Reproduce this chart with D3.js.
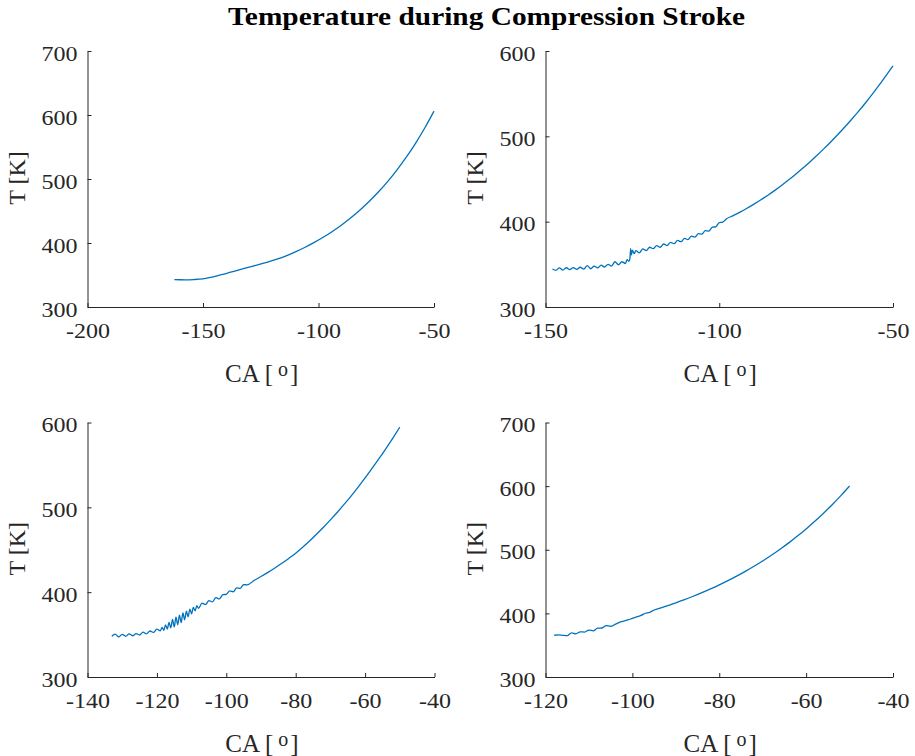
<!DOCTYPE html>
<html><head><meta charset="utf-8">
<script src="https://cdn.jsdelivr.net/npm/d3@7"></script>
<style>body{margin:0;background:#fff}svg{display:block}</style>
</head><body>
<script>
// ---- Data ----
const title = "Temperature during Compression Stroke";

// Subplot 1
const ca1 = [-162.4,-160,-158,-154,-150,-146,-142,-138,-134,-130,-126,-122,-118,-114,-110,-106,-102,-98,-94,-90,-86,-82,-78,-74,-70,-66,-62,-58,-54,-50];
const t1  = [342.8,342.6,342.5,342.9,344.0,346.8,350.4,354.4,358.4,362.3,366.2,370.3,374.8,380.0,386.0,392.9,400.5,408.9,418.1,428.2,439.4,451.7,465.2,480.0,496.3,514.3,534.0,555.8,579.7,606.0];
const xTicks1 = [-200,-150,-100,-50];
const yTicks1 = [300,400,500,600,700];

// Subplot 2
const ca2 = [-148,-147,-146,-145,-144,-143,-142,-141,-140,-139,-138,-137,-136,-135,-134,-133,-132,-131,-130,-129,-128,-127,-126.5,-126,-125.7,-125.5,-125.3,-125,-124.5,-124,-123,-122,-121,-120,-119,-118,-117,-116,-115,-114,-113,-112,-111,-110,-109,-108,-107,-106,-105,-104,-103,-102,-101,-100,-99,-98,-96,-94,-92,-90,-88,-86,-84,-82,-80,-78,-76,-74,-72,-70,-68,-66,-64,-62,-60,-58,-56,-54,-52,-50];
const t2  = [344.5,343.0,345.8,343.3,346.0,343.8,346.2,344.0,346.6,344.3,348.5,344.8,347.8,345.8,349.0,346.8,350.0,348.0,353.0,349.5,353.0,351.0,355.5,353.5,357.0,368.5,361.0,366.5,362.5,366.0,363.5,368.0,366.0,370.0,368.3,372.0,370.0,373.8,372.0,375.8,374.3,378.0,376.5,380.5,379.0,383.0,382.0,386.0,385.5,389.5,389.0,393.5,394.0,399.0,399.5,403.1,407.0,411.2,415.7,420.5,425.6,431.0,436.7,442.7,449.0,455.6,462.5,469.7,477.2,485.0,493.1,501.5,510.3,519.4,528.9,538.8,549.1,559.9,571.2,582.5];
const xTicks2 = [-150,-100,-50];
const yTicks2 = [300,400,500,600];

// Subplot 3
const ca3 = [-133,-132,-131,-130,-129,-128,-127,-126,-125,-124,-123,-122,-121,-120,-119,-118.5,-118,-117.5,-117,-116.5,-116,-115.5,-115,-114.5,-114,-113.5,-113,-112.5,-112,-111.5,-111,-110.5,-110,-109.5,-109,-108.5,-108,-107,-106,-105,-104,-103,-102,-101,-100,-99,-98,-97,-96,-95,-94,-92,-90,-88,-86,-84,-82,-80,-78,-76,-74,-72,-70,-68,-66,-64,-62,-60,-58,-56,-54,-52,-50];
const t3  = [348.0,350.5,347.2,350.3,348.0,350.8,348.6,351.2,349.5,352.8,350.8,354.2,352.5,356.5,354.5,358.5,355.0,361.5,356.5,364.5,358.0,368.0,359.0,370.5,361.5,373.0,364.0,375.5,367.5,377.5,371.0,380.0,374.5,382.0,378.0,384.0,381.0,387.0,385.5,390.0,388.5,393.5,392.0,397.0,397.5,401.5,400.5,405.0,404.5,409.0,408.5,413.8,418.4,423.3,428.5,434.0,439.8,446.0,453.0,460.4,468.3,476.5,485.2,494.2,503.7,513.6,523.9,534.6,545.8,557.3,569.3,581.7,594.5];
const xTicks3 = [-140,-120,-100,-80,-60,-40];
const yTicks3 = [300,400,500,600];

// Subplot 4
const ca4 = [-118,-117,-116,-115,-114,-113,-112,-111,-110,-109,-108,-107,-106,-105,-104,-103,-102,-101,-100,-99,-98,-97,-96,-95,-94,-92,-90,-88,-86,-84,-82,-80,-78,-76,-74,-72,-70,-68,-66,-64,-62,-60,-58,-56,-54,-52,-50];
const t4  = [365.6,366.2,365.4,364.9,369.5,367.9,371.0,370.6,373.8,372.4,376.7,377.0,380.9,379.5,382.6,386.0,387.9,389.6,392.2,394.6,396.8,400.2,401.6,405.3,407.3,411.9,416.6,421.6,426.9,432.5,438.5,444.8,451.5,458.5,466.0,474.0,482.4,491.3,500.8,510.8,521.5,532.8,544.7,557.4,570.8,585.1,600.2];
const xTicks4 = [-120,-100,-80,-60,-40];
const yTicks4 = [300,400,500,600,700];

const xLabelMain = "CA [";
const xLabelSup = "o";
const xLabelEnd = "]";
const yLabel = "T [K]";

// ---- Drawing ----
const W = 915, H = 756;
const svg = d3.select("body").append("svg").attr("width", W).attr("height", H);
const font = "'Liberation Serif','Times New Roman',serif";
const axisColor = "#262626";
const lineColor = "#0072BD";

svg.append("text").attr("transform", "translate(486.5,25) scale(1.13,1)").attr("text-anchor", "middle")
  .attr("font-family", font).attr("font-weight", "bold").attr("font-size", 26)
  .attr("fill", "#000").text(title);

const panels = [
  {ca: ca1, t: t1, xd: [-200,-50], yd: [300,700], xt: xTicks1, yt: yTicks1, left: 87.5, right: 434, top: 51, bottom: 307},
  {ca: ca2, t: t2, xd: [-150,-50], yd: [300,600], xt: xTicks2, yt: yTicks2, left: 545.5, right: 893, top: 51, bottom: 307},
  {ca: ca3, t: t3, xd: [-140,-40], yd: [300,600], xt: xTicks3, yt: yTicks3, left: 87.5, right: 434.5, top: 422.5, bottom: 677},
  {ca: ca4, t: t4, xd: [-120,-40], yd: [300,700], xt: xTicks4, yt: yTicks4, left: 545.5, right: 893, top: 422.5, bottom: 677}
];

const sx = 1.2, tickFs = 20;

panels.forEach(p => {
  const x = d3.scaleLinear().domain(p.xd).range([p.left, p.right]);
  const y = d3.scaleLinear().domain(p.yd).range([p.bottom, p.top]);
  const g = svg.append("g");

  const n = Math.min(p.ca.length, p.t.length);
  const data = d3.range(n).map(i => [p.ca[i], p.t[i]]);
  g.append("path").datum(data)
    .attr("fill", "none").attr("stroke", lineColor).attr("stroke-width", 1.3)
    .attr("stroke-linejoin", "round")
    .attr("d", d3.line().curve(d3.curveMonotoneX).x(d => x(d[0])).y(d => y(d[1])));

  const xa = g.append("g").attr("transform", `translate(0,${p.bottom})`)
    .call(d3.axisBottom(x).tickValues(p.xt).tickFormat(d => String(d)).tickSizeInner(-4).tickSizeOuter(0));
  const ya = g.append("g").attr("transform", `translate(${p.left},0)`)
    .call(d3.axisLeft(y).tickValues(p.yt).tickFormat(d => String(d)).tickSizeInner(-4).tickSizeOuter(0));
  [xa, ya].forEach(a => {
    a.select(".domain").attr("stroke", axisColor);
    a.selectAll(".tick line").attr("stroke", axisColor);
    a.selectAll(".tick text").attr("fill", axisColor).attr("font-family", font).attr("font-size", tickFs)
      .attr("x", null).attr("y", null).attr("dy", null);
  });
  xa.selectAll(".tick text").attr("transform", `translate(0,31) scale(${sx},1)`);
  ya.selectAll(".tick text").attr("transform", `translate(-10,9) scale(${sx},1)`);

  const xl = g.append("text").attr("x", (p.left + p.right) / 2 + 1).attr("y", p.bottom + 74.5)
    .attr("text-anchor", "middle").attr("font-family", font).attr("font-size", 25).attr("fill", axisColor);
  xl.append("tspan").text(xLabelMain);
  xl.append("tspan").attr("dx", 5).attr("dy", -5.5).attr("font-size", 20).text(xLabelSup);
  xl.append("tspan").attr("dx", 2).attr("dy", 5.5).text(xLabelEnd);

  g.append("text").attr("transform", `translate(${p.left - 62.5},${(p.top + p.bottom) / 2 - 1}) rotate(-90)`)
    .attr("text-anchor", "middle").attr("font-family", font).attr("font-size", 24).attr("fill", axisColor)
    .text(yLabel);
});
</script>
</body></html>
